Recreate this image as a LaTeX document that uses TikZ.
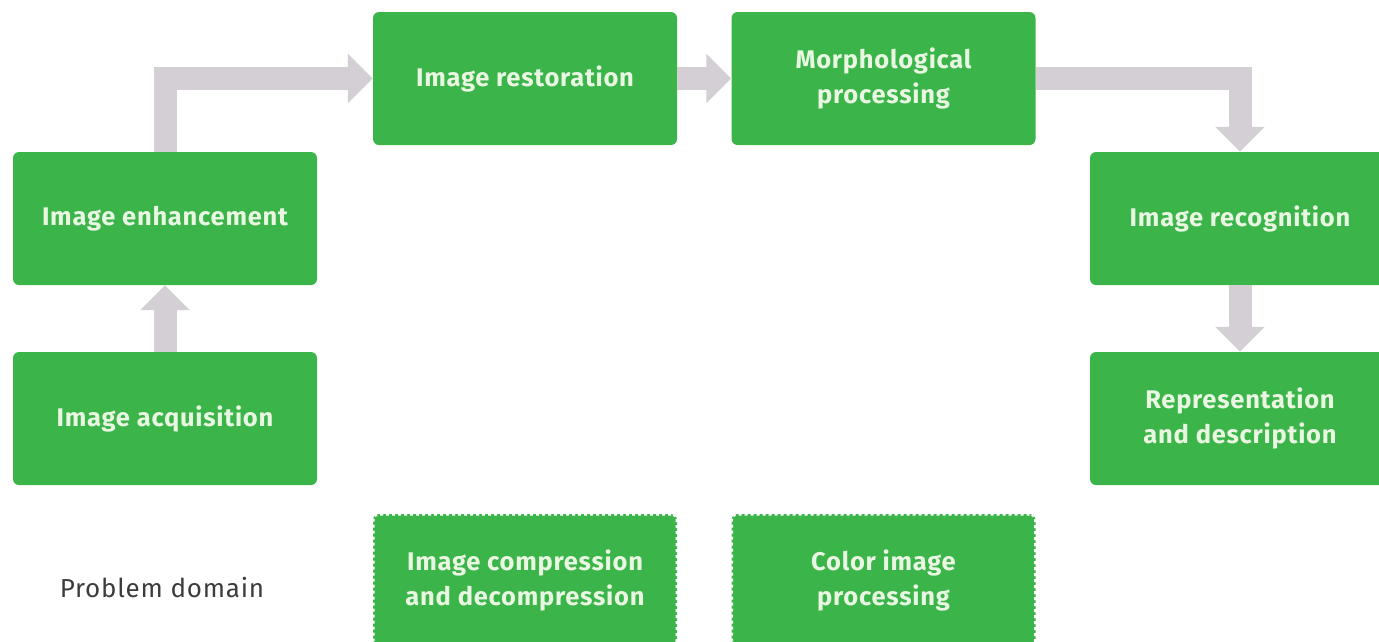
\documentclass[tikz,border=0pt]{standalone}
\usepackage{fontspec}
\setmainfont{Fira Sans}
\usetikzlibrary{arrows.meta}
\definecolor{boxgreen}{RGB}{59,181,74}
\definecolor{boxtext}{RGB}{232,246,226}
\definecolor{arrowgray}{RGB}{211,207,212}
\definecolor{labelgray}{RGB}{60,60,60}
\begin{document}
\begin{tikzpicture}[x=1pt,y=-1pt,
  stagebox/.style={fill=boxgreen, rounded corners=6pt, minimum width=304pt, minimum height=133pt,
    inner sep=0pt, align=center, text=boxtext,
    font=\fontsize{25.5}{35}\selectfont\bfseries\addfontfeatures{LetterSpace=3}},
  optbox/.style={stagebox, draw=white, line width=3pt, dash pattern=on 3pt off 3pt},
  flow/.style={draw=arrowgray, line width=23pt, line join=miter,
    -{Triangle[width=48pt,length=25pt]}}]
\useasboundingbox (0,0) rectangle (1379,641);
\node[stagebox] (enh) at (165,218.5) {Image enhancement};
\node[stagebox] (acq) at (165,418.5) {Image acquisition};
\node[stagebox] (rest) at (525,78.5) {Image restoration};
\node[stagebox] (morph) at (883.5,78.5) {Morphological\\processing};
\node[stagebox, minimum width=300pt] (recog) at (1240,218.5) {Image recognition};
\node[stagebox, minimum width=300pt] (repr) at (1240,418.5) {Representation\\and description};
\node[optbox] (comp) at (525,580.5) {Image compression\\and decompression};
\node[optbox] (color) at (883.5,580.5) {Color image\\processing};
\node[text=labelgray, font=\fontsize{26}{30}\selectfont\addfontfeatures{LetterSpace=3}] (prob) at (162,588) {Problem domain};
\draw[flow] (acq.north) -- (enh.south);
\draw[flow] (enh.north) |- (rest.west);
\draw[flow] (rest.east) -- (morph.west);
\draw[flow] (morph.east) -| (recog.north);
\draw[flow] (recog.south) -- (repr.north);
\end{tikzpicture}
\end{document}
